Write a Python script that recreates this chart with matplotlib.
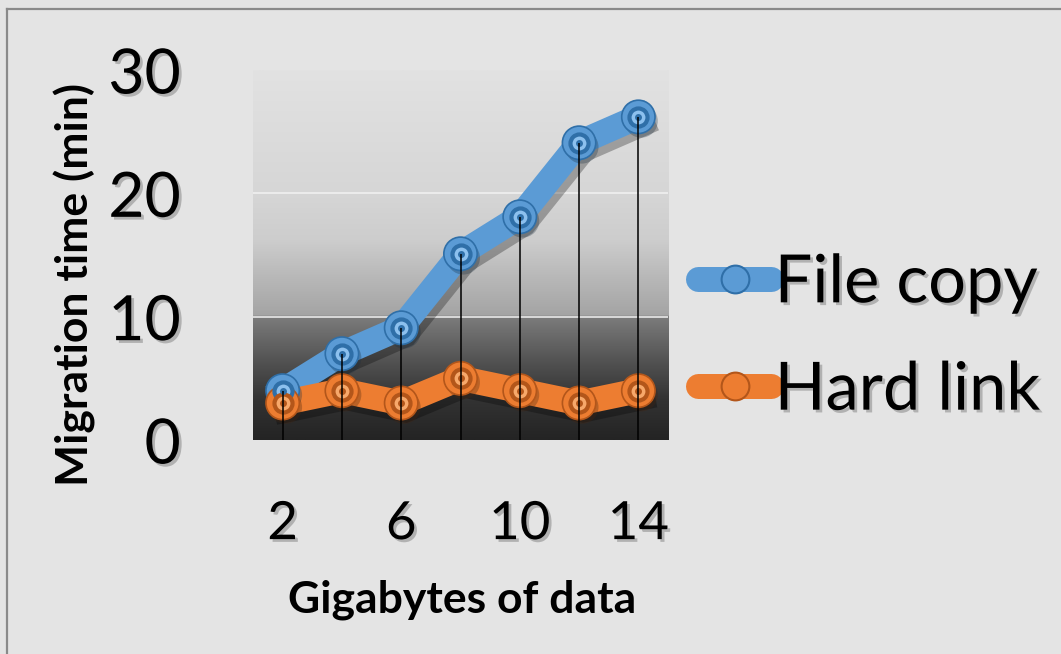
import numpy as np
import matplotlib
matplotlib.use("Agg")
import matplotlib.pyplot as plt
from matplotlib.colors import LinearSegmentedColormap
from matplotlib.lines import Line2D
import matplotlib.patheffects as pe

# ---- data ----
gigabytes = [2, 4, 6, 8, 10, 12, 14]
file_copy = [4.0, 7.0, 9.1, 15.1, 18.1, 24.1, 26.2]
hard_link = [3.0, 4.0, 3.0, 5.0, 4.0, 3.0, 4.0]
x_ticks = [2, 6, 10, 14]
y_ticks = [0, 10, 20, 30]
series_names = ["File copy", "Hard link"]

BLUE = "#5b9bd5"
ORANGE = "#ed7d31"
BG = "#e4e4e4"

plt.rcParams['font.family'] = ['Lato', 'DejaVu Sans']

fig = plt.figure(figsize=(10.61, 6.54), dpi=100, facecolor=BG)
ax = fig.add_axes([253/1061, 1-440/654, 415/1061, 370/654])
ax.set_facecolor(BG)
ax.set_xlim(1, 15)
ax.set_ylim(0, 30)

# gradient background of the plot area
stops = [(0.0, "#242424"), (0.11, "#333333"), (0.22, "#555555"), (0.333, "#7c7c7c"),
         (0.337, "#a4a4a4"), (0.46, "#bcbcbc"), (0.54, "#cdcdcd"), (0.67, "#d6d6d6"),
         (1.0, "#e2e2e2")]
cmap = LinearSegmentedColormap.from_list("bgrad", stops)
grad = np.linspace(0, 1, 512).reshape(-1, 1)
ax.imshow(grad, extent=[1, 15, 0, 30], origin="lower", aspect="auto", cmap=cmap,
          vmin=0, vmax=1, zorder=0)

for g in [10, 20]:
    ax.axhline(g, color="#f2f2f2", lw=1.3, alpha=0.85, zorder=1)

shadow = [pe.SimpleLineShadow(offset=(3, -5), shadow_color="black", alpha=0.28, rho=0.3), pe.Normal()]

def draw_series(y, color, light, dark):
    ax.plot(gigabytes, y, color=color, lw=18, solid_joinstyle="miter", zorder=3,
            path_effects=shadow)
    ax.plot(gigabytes, y, ls="none", marker="o", ms=24, mfc=color, mec=dark, mew=1.2, zorder=4,
            path_effects=[pe.SimplePatchShadow(offset=(2, -3), alpha=0.3), pe.Normal()])
    ax.plot(gigabytes, y, ls="none", marker="o", ms=13, mfc=light, mec=dark, mew=3, zorder=5)
    ax.plot(gigabytes, y, ls="none", marker="o", ms=5, mfc=dark, mec=dark, mew=0, zorder=6)

draw_series(file_copy, BLUE, "#8cc0ee", "#2f6fa8")
draw_series(hard_link, ORANGE, "#f7a86a", "#b3561a")

# drop lines
tops = [max(a, b) for a, b in zip(file_copy, hard_link)]
ax.vlines(gigabytes, 0, tops, color="black", lw=1.1, zorder=8)

for s in ax.spines.values():
    s.set_visible(False)

txt_shadow = [pe.SimplePatchShadow(offset=(2, -2), shadow_rgbFace="black", alpha=0.22), pe.Normal()]

ax.set_xticks(x_ticks)
ax.set_xticklabels([str(v) for v in x_ticks], fontsize=38, path_effects=txt_shadow)
ax.set_yticks(y_ticks)
ax.set_yticklabels([str(v) for v in y_ticks], fontsize=45, path_effects=txt_shadow)
ax.tick_params(axis="x", length=0, pad=44)
ax.tick_params(axis="y", length=0, pad=52)

fig.text(462/1061, 1-600/654, "Gigabytes of data", fontsize=32, fontweight="bold",
         ha="center", va="center")
fig.text(75/1061, 1-284/654, "Migration time (min)", fontsize=32, fontweight="bold",
         ha="center", va="center", rotation=90)

# legend
handles = []
for c, light, dark in [(BLUE, "#8cc0ee", "#2f6fa8"), (ORANGE, "#f7a86a", "#b3561a")]:
    handles.append(Line2D([], [], color=c, lw=18, solid_capstyle="round", marker="o", ms=20,
                          mfc=c, mec=dark, mew=1.5))
leg = fig.legend(handles, series_names, loc="center left",
                 bbox_to_anchor=(698/1061, 1-337/654), frameon=False, fontsize=48,
                 handlelength=1.1, handletextpad=0.05, labelspacing=0.68, borderpad=0,
                 borderaxespad=0)
for t in leg.get_texts():
    t.set_path_effects(txt_shadow)

# partial border (top and left edge)
fig.add_artist(Line2D([7/1061, 1], [1-9/654, 1-9/654], color="#8a8a8a", lw=1.6))
fig.add_artist(Line2D([7/1061, 7/1061], [0, 1-9/654], color="#8a8a8a", lw=1.6))

fig.savefig("out.png", dpi=100, facecolor=BG)
